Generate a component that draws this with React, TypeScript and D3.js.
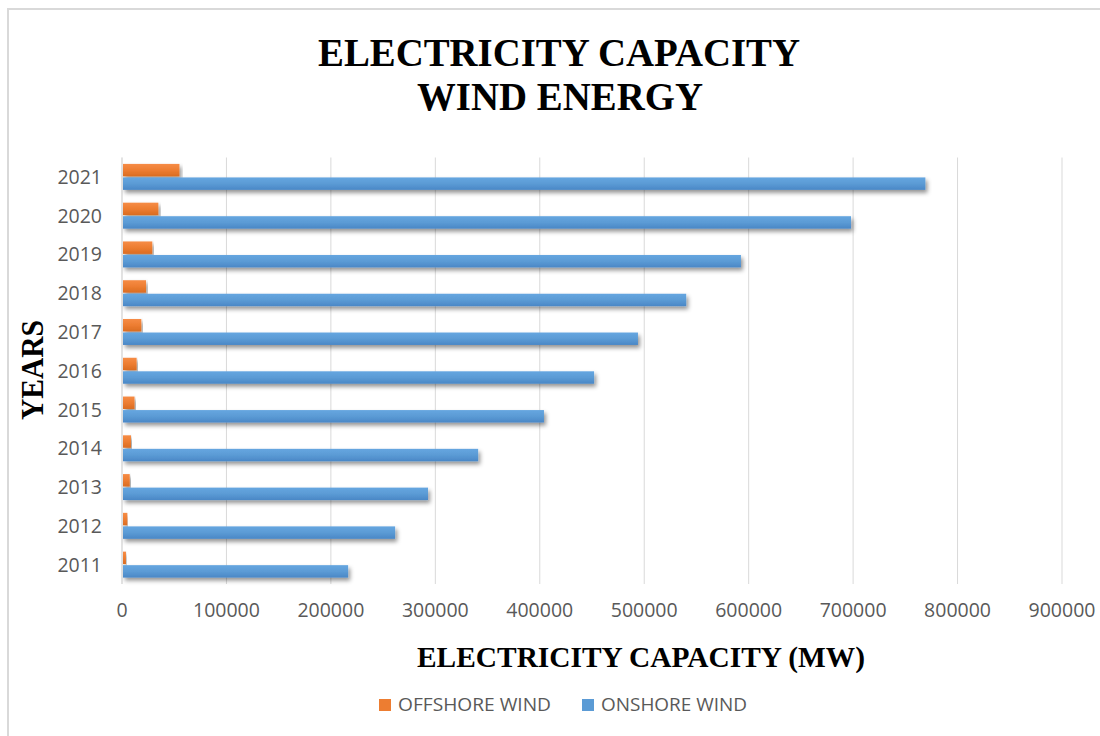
import React from "react";
import * as d3 from "d3";

const years = ["2011","2012","2013","2014","2015","2016","2017","2018","2019","2020","2021"];
const offshore = [3800, 5100, 7400, 8600, 12000, 14000, 18500, 23000, 29000, 34800, 55000];
const onshore = [216500, 261500, 293000, 341000, 404000, 452000, 494000, 540200, 592600, 698000, 769200];
const xTicks = [0, 100000, 200000, 300000, 400000, 500000, 600000, 700000, 800000, 900000];
const seriesNames = ["OFFSHORE WIND", "ONSHORE WIND"];
const seriesColors = ["#ED7D31", "#5B9BD5"];

export default function App() {
  const W = 1100, H = 736;
  const left = 122, right = 1062, top = 157.5, bottom = 584;
  const x = d3.scaleLinear().domain([0, 900000]).range([left, right]);
  const y = d3.scaleBand<string>().domain([...years].reverse()).range([top, bottom]).paddingInner(0.33).paddingOuter(0.165);
  const inner = d3.scaleBand<number>().domain([0, 1]).range([0, y.bandwidth()]).paddingInner(0.08);
  const sans = "'Open Sans', 'DejaVu Sans', sans-serif";
  const serif = "'Liberation Serif', 'Times New Roman', serif";
  const series = [offshore, onshore];
  return (
    <svg width={W} height={H} style={{ position: "absolute", left: 0, top: 0, background: "#fff" }}>
      <defs>
        <filter id="sh" x="-5%" y="-60%" width="110%" height="260%">
          <feDropShadow dx="2" dy="3" stdDeviation="2.2" floodColor="#000" floodOpacity="0.42" />
        </filter>
        <linearGradient id="g0" x1="0" y1="0" x2="0" y2="1">
          <stop offset="0" stopColor="#F68C46" />
          <stop offset="0.5" stopColor="#ED7D31" />
          <stop offset="1" stopColor="#DA6C22" />
        </linearGradient>
        <linearGradient id="g1" x1="0" y1="0" x2="0" y2="1">
          <stop offset="0" stopColor="#66A6E0" />
          <stop offset="0.5" stopColor="#5B9BD5" />
          <stop offset="1" stopColor="#4A87C6" />
        </linearGradient>
      </defs>
      <rect x={0} y={0} width={W} height={H} fill="#fff" />
      <path d={`M8,${H + 5} L8,9 L${W + 5},9`} fill="none" stroke="#d9d9d9" strokeWidth={2} />
      <text x={559} y={66} textAnchor="middle" fontFamily={serif} fontWeight="bold" fontSize={40} textLength={482} lengthAdjust="spacingAndGlyphs" fill="#000">ELECTRICITY CAPACITY</text>
      <text x={560} y={110} textAnchor="middle" fontFamily={serif} fontWeight="bold" fontSize={40} textLength={286} lengthAdjust="spacingAndGlyphs" fill="#000">WIND ENERGY</text>
      {xTicks.map((t) => (
        <line key={"g" + t} x1={x(t)} x2={x(t)} y1={top} y2={bottom} stroke="#d9d9d9" strokeWidth={1} />
      ))}
      {years.map((yr, i) => (
        <g key={yr}>
          {series.map((s, k) => (
            <rect key={k} x={x(0) + 1} y={(y(yr) as number) + (inner(k) as number)} width={x(s[i]) - x(0) - 1} height={inner.bandwidth()} fill={`url(#g${k})`} filter="url(#sh)" />
          ))}
          <text x={102} y={(y(yr) as number) + y.bandwidth() / 2 + 7} textAnchor="end" fontFamily={sans} fontSize={19.5} fill="#595959">{yr}</text>
        </g>
      ))}
      <line x1={left} x2={left} y1={top} y2={bottom} stroke="#d9d9d9" strokeWidth={1} />
      {xTicks.map((t) => (
        <text key={"t" + t} x={x(t)} y={617} textAnchor="middle" fontFamily={sans} fontSize={19.5} fill="#595959">{t}</text>
      ))}
      <text x={641} y={667} textAnchor="middle" fontFamily={serif} fontWeight="bold" fontSize={30} textLength={448} lengthAdjust="spacingAndGlyphs" fill="#000">ELECTRICITY CAPACITY (MW)</text>
      <text transform="translate(43,370) rotate(-90)" textAnchor="middle" fontFamily={serif} fontWeight="bold" fontSize={31} textLength={100} lengthAdjust="spacingAndGlyphs" fill="#000">YEARS</text>
      {seriesNames.map((n, k) => {
        const lx = k === 0 ? 379 : 582;
        return (
          <g key={n}>
            <rect x={lx} y={699} width={12} height={12} fill={seriesColors[k]} />
            <text x={lx + 19} y={711} fontFamily={sans} fontSize={18} fill="#595959" textLength={k === 0 ? 153 : 146} lengthAdjust="spacingAndGlyphs">{n}</text>
          </g>
        );
      })}
    </svg>
  );
}
